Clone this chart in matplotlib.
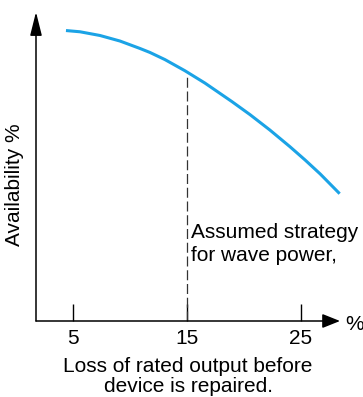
import matplotlib.pyplot as plt

plt.rcParams['font.family'] = ['Liberation Sans', 'DejaVu Sans']

# curve (x = % loss of rated output, y = availability, arbitrary 0-100)
loss = [4.41, 5.64, 7.39, 9.15, 10.90, 11.78, 13.09, 14.84, 16.60, 18.97,
        20.55, 22.30, 24.06, 25.39, 26.71, 28.42]
availability = [94.0, 93.6, 92.4, 90.6, 88.2, 86.9, 84.6, 81.0, 77.0, 71.0,
                66.8, 61.8, 56.4, 52.1, 47.6, 41.2]

xticks = [5, 15, 25]
strategy_x = 15
strategy_y = 79.5

blue = '#1ba3e6'

fig = plt.figure(figsize=(3.63, 3.97), dpi=100)
ax = fig.add_axes([36 / 363, 76 / 397, 304 / 363, 309 / 397])
ax.set_xlim(1.78, 28.45)
ax.set_ylim(0, 100)
for s in ax.spines.values():
    s.set_visible(False)

# axes drawn as arrows
ax.annotate('', xy=(0, 1), xytext=(0, 0), xycoords='axes fraction',
            arrowprops=dict(arrowstyle='-|>,head_length=0.8,head_width=0.2', mutation_scale=18,
                            lw=1.1, color='black', shrinkA=0, shrinkB=0))
ax.annotate('', xy=(1, 0), xytext=(0, 0), xycoords='axes fraction',
            arrowprops=dict(arrowstyle='-|>,head_length=0.6,head_width=0.24', mutation_scale=18,
                            lw=1.1, color='black', shrinkA=0, shrinkB=0))

ax.plot(loss, availability, color=blue, lw=2.2, clip_on=False, solid_capstyle='butt',
        solid_joinstyle='round')
ax.plot([strategy_x, strategy_x], [0, strategy_y], color='#333333', lw=0.9, ls=(0, (8, 3)))

ax.set_xticks(xticks)
ax.set_xticklabels([str(t) for t in xticks])
ax.set_yticks([])
ax.tick_params(axis='x', direction='in', length=12, width=1, labelsize=15, pad=6, color='black')

ax.set_xlabel('Loss of rated output before\ndevice is repaired.', fontsize=15, linespacing=1.08, labelpad=6)
fig.text(14.5 / 363, 1 - 185 / 397, 'Availability %', rotation=90, fontsize=15, ha='center', va='center')
fig.text(355 / 363, 1 - 324 / 397, '%', fontsize=15, ha='center', va='center')

ax.text(15.38, 19.4, 'Assumed strategy\nfor wave power,', fontsize=15, ha='left', va='baseline',
        linespacing=1.26)

plt.savefig('out.png')
